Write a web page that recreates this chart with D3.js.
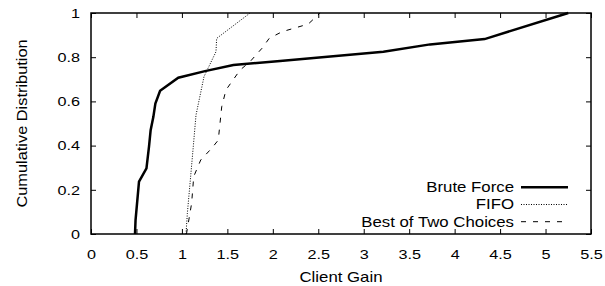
<!DOCTYPE html>
<html>
<head>
<meta charset="utf-8">
<script src="https://cdn.jsdelivr.net/npm/d3@7"></script>
<style>
  body { margin: 0; background: #fff; }
  text { font-family: "Liberation Sans", Arial, sans-serif; fill: #000; }
</style>
</head>
<body>
<div id="chart"></div>
<script>
var svgWidth = 605;
var svgHeight = 286;

var margin = { top: 13, right: 14, bottom: 52, left: 91 };
var width = svgWidth - margin.left - margin.right;
var height = svgHeight - margin.top - margin.bottom;

// the original font is a wide helvetica, so text gets stretched sideways
var stretch = 1.2;

// series: [client gain, cumulative fraction]
var bruteForce = [
    [0.484, 0], [0.49, 0.063], [0.528, 0.237], [0.61, 0.297], [0.638, 0.395],
    [0.656, 0.47], [0.686, 0.53], [0.708, 0.59], [0.76, 0.648], [0.96, 0.707],
    [1.254, 0.737], [1.566, 0.765], [2.08, 0.783], [3.216, 0.825], [3.73, 0.858],
    [4.33, 0.882], [5.25, 1]
];
var fifo = [
    [1.045, 0], [1.06, 0.094], [1.096, 0.26], [1.125, 0.395], [1.155, 0.538],
    [1.243, 0.712], [1.375, 0.825], [1.382, 0.885], [1.75, 1]
];
var bestOfTwo = [
    [1.05, 0], [1.107, 0.139], [1.13, 0.26], [1.207, 0.335], [1.328, 0.388],
    [1.4, 0.425], [1.438, 0.576], [1.485, 0.652], [1.64, 0.742], [1.75, 0.78],
    [1.88, 0.84], [1.96, 0.885], [2.1, 0.915], [2.39, 0.95], [2.52, 1]
];

var xTicks = [0, 0.5, 1, 1.5, 2, 2.5, 3, 3.5, 4, 4.5, 5, 5.5];
var yTicks = [0, 0.2, 0.4, 0.6, 0.8, 1];

var seriesNames = ["Brute Force", "FIFO", "Best of Two Choices"];

var svg = d3.select("#chart")
    .append("svg")
    .attr("width", svgWidth)
    .attr("height", svgHeight);

var chartGroup = svg.append("g")
    .attr("transform", `translate(${margin.left}, ${margin.top})`);

var xScale = d3.scaleLinear().domain([0, 5.5]).range([0, width]);
var yScale = d3.scaleLinear().domain([0, 1]).range([height, 0]);

var fmt = d => String(d);

// ticks point inward on all four sides
var bottomAxis = d3.axisBottom(xScale).tickValues(xTicks).tickFormat(fmt)
    .tickSizeInner(-5).tickSizeOuter(0).tickPadding(15);
var leftAxis = d3.axisLeft(yScale).tickValues(yTicks).tickFormat(fmt)
    .tickSizeInner(-5).tickSizeOuter(0).tickPadding(11);
var topAxis = d3.axisTop(xScale).tickValues(xTicks).tickFormat("")
    .tickSizeInner(-5).tickSizeOuter(0);
var rightAxis = d3.axisRight(yScale).tickValues(yTicks).tickFormat("")
    .tickSizeInner(-5).tickSizeOuter(0);

function styleAxis(g) {
    g.select(".domain").remove();
    g.selectAll("line").attr("stroke", "#000").attr("stroke-width", 1);
    g.selectAll("text").attr("font-size", 13.5)
        .attr("font-family", "Liberation Sans, Arial, sans-serif")
        .attr("transform", `scale(${stretch}, 1)`);
}

chartGroup.append("g").attr("transform", `translate(0, ${height})`).call(bottomAxis).call(styleAxis);
var yAxisG = chartGroup.append("g").call(leftAxis).call(styleAxis);
yAxisG.selectAll("text").attr("x", -11 / stretch);
chartGroup.append("g").call(topAxis).call(styleAxis);
chartGroup.append("g").attr("transform", `translate(${width}, 0)`).call(rightAxis).call(styleAxis);

// frame
chartGroup.append("rect")
    .attr("width", width)
    .attr("height", height)
    .attr("fill", "none")
    .attr("stroke", "#000")
    .attr("stroke-width", 1.5);

var line = d3.line()
    .x(d => xScale(d[0]))
    .y(d => yScale(d[1]));

var styles = [
    { width: 2.5, dash: null },
    { width: 1, dash: "1,1.5" },
    { width: 1, dash: "5,7" }
];

[bruteForce, fifo, bestOfTwo].forEach(function (data, i) {
    chartGroup.append("path")
        .datum(data)
        .attr("fill", "none")
        .attr("stroke", "#000")
        .attr("stroke-width", styles[i].width)
        .attr("stroke-dasharray", styles[i].dash)
        .attr("d", line);
});

// legend
var legend = svg.append("g");
var legendY = [187.3, 204.5, 221.7];
seriesNames.forEach(function (name, i) {
    legend.append("text")
        .attr("transform", `translate(514, ${legendY[i]}) scale(${stretch}, 1)`)
        .attr("dy", "0.35em")
        .attr("text-anchor", "end")
        .attr("font-size", 14)
        .text(name);
    legend.append("line")
        .attr("x1", 521)
        .attr("x2", 568)
        .attr("y1", legendY[i])
        .attr("y2", legendY[i])
        .attr("stroke", "#000")
        .attr("stroke-width", styles[i].width)
        .attr("stroke-dasharray", styles[i].dash);
});

// axis titles
svg.append("text")
    .attr("transform", `translate(${margin.left + width / 2}, 282) scale(${stretch}, 1)`)
    .attr("text-anchor", "middle")
    .attr("font-size", 14)
    .text("Client Gain");

svg.append("text")
    .attr("transform", `translate(27, ${margin.top + height / 2}) rotate(-90) scale(1.17, 1)`)
    .attr("text-anchor", "middle")
    .attr("font-size", 14)
    .text("Cumulative Distribution");
</script>
</body>
</html>
